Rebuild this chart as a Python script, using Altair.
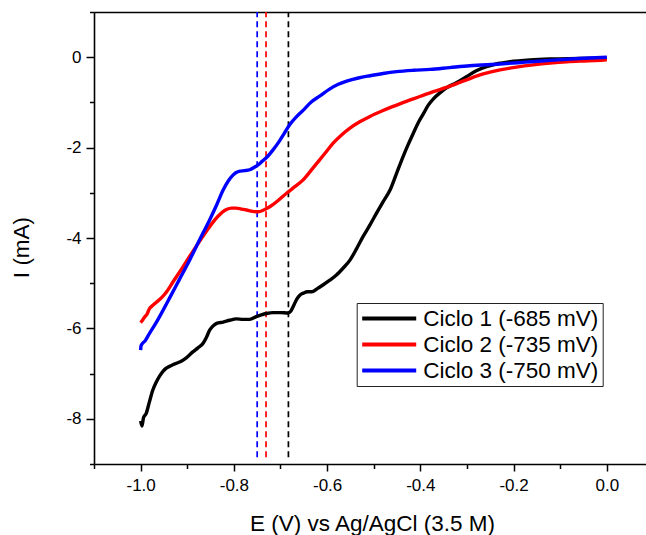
import altair as alt
import pandas as pd

FONT = "Liberation Sans"

series = ["Ciclo 1 (-685 mV)", "Ciclo 2 (-735 mV)", "Ciclo 3 (-750 mV)"]
colors = ["#000000", "#ff0000", "#0000ff"]
peak_x = [-0.683, -0.731, -0.750]

x_ticks = [-1.1, -1.0, -0.9, -0.8, -0.7, -0.6, -0.5, -0.4, -0.3, -0.2, -0.1, 0.0]
y_ticks = [-9, -8, -7, -6, -5, -4, -3, -2, -1, 0, 1]

c1_x = [-1.000, -0.997, -0.994, -0.988, -0.981, -0.974, -0.966, -0.959, -0.952, -0.945,
        -0.934, -0.923, -0.912, -0.902, -0.888, -0.877, -0.866, -0.859, -0.852, -0.845,
        -0.837, -0.823, -0.809, -0.795, -0.780, -0.766, -0.752, -0.741, -0.730, -0.716,
        -0.700, -0.684, -0.678, -0.672, -0.665, -0.658, -0.651, -0.642, -0.633, -0.621,
        -0.609, -0.595, -0.580, -0.566, -0.551, -0.537, -0.523, -0.508, -0.494, -0.480,
        -0.465, -0.451, -0.437, -0.426, -0.415, -0.404, -0.394, -0.383, -0.372, -0.358,
        -0.344, -0.322, -0.301, -0.280, -0.258, -0.233, -0.208, -0.165, -0.122, -0.060,
        0.000]
c1_y = [-8.05, -8.16, -7.98, -7.88, -7.62, -7.37, -7.18, -7.05, -6.95, -6.88,
        -6.82, -6.77, -6.72, -6.65, -6.52, -6.43, -6.33, -6.20, -6.04, -5.95,
        -5.89, -5.86, -5.82, -5.79, -5.80, -5.80, -5.74, -5.70, -5.67, -5.65,
        -5.65, -5.66, -5.62, -5.50, -5.35, -5.26, -5.22, -5.19, -5.19, -5.12,
        -5.04, -4.94, -4.82, -4.67, -4.49, -4.24, -3.97, -3.71, -3.45, -3.20,
        -2.94, -2.57, -2.20, -1.93, -1.68, -1.44, -1.26, -1.06, -0.92, -0.79,
        -0.68, -0.56, -0.43, -0.30, -0.21, -0.14, -0.10, -0.06, -0.04, -0.03,
        -0.02]

c2_x = [-1.000, -0.996, -0.991, -0.986, -0.982, -0.975, -0.966, -0.955, -0.945, -0.931,
        -0.913, -0.895, -0.874, -0.852, -0.834, -0.816, -0.805, -0.795, -0.784, -0.773,
        -0.760, -0.748, -0.736, -0.723, -0.705, -0.687, -0.670, -0.652, -0.634, -0.616,
        -0.601, -0.587, -0.569, -0.551, -0.530, -0.508, -0.480, -0.451, -0.426, -0.401,
        -0.372, -0.344, -0.301, -0.265, -0.229, -0.194, -0.158, -0.122, -0.086, -0.040,
        0.000]
c2_y = [-5.87, -5.82, -5.74, -5.68, -5.58, -5.50, -5.42, -5.32, -5.20, -4.98,
        -4.70, -4.41, -4.08, -3.75, -3.52, -3.37, -3.34, -3.34, -3.36, -3.38,
        -3.41, -3.42, -3.38, -3.31, -3.17, -3.01, -2.87, -2.72, -2.50, -2.27,
        -2.08, -1.90, -1.72, -1.57, -1.43, -1.31, -1.18, -1.06, -0.96, -0.87,
        -0.76, -0.67, -0.50, -0.37, -0.28, -0.22, -0.17, -0.13, -0.10, -0.08,
        -0.06]

c3_x = [-1.000, -0.999, -0.990, -0.981, -0.966, -0.952, -0.938, -0.917, -0.895, -0.874,
        -0.852, -0.837, -0.823, -0.812, -0.802, -0.795, -0.787, -0.777, -0.766, -0.757,
        -0.748, -0.739, -0.730, -0.716, -0.702, -0.691, -0.680, -0.666, -0.651, -0.634,
        -0.616, -0.594, -0.576, -0.558, -0.533, -0.508, -0.480, -0.451, -0.415, -0.379,
        -0.337, -0.294, -0.229, -0.175, -0.122, -0.060, 0.000]
c3_y = [-6.48, -6.38, -6.27, -6.11, -5.86, -5.60, -5.33, -4.92, -4.49, -4.05,
        -3.60, -3.27, -2.94, -2.74, -2.61, -2.55, -2.52, -2.51, -2.49, -2.44,
        -2.38, -2.30, -2.22, -2.05, -1.85, -1.67, -1.49, -1.32, -1.17, -0.99,
        -0.86, -0.70, -0.60, -0.53, -0.46, -0.41, -0.36, -0.32, -0.29, -0.27,
        -0.23, -0.19, -0.15, -0.11, -0.07, -0.03, 0.00]

rows = []
for s, xs, ys in zip(series, [c1_x, c2_x, c3_x], [c1_y, c2_y, c3_y]):
    for i, (xv, yv) in enumerate(zip(xs, ys)):
        rows.append({"serie": s, "E": xv, "I": yv, "i": i})
df = pd.DataFrame(rows)

rules_df = pd.DataFrame({"serie": series, "xr": peak_x, "col": colors})

x_dom = [-1.1, 0.084]
y_dom = [-9, 1]

x_major = "abs(round(datum.value*10)) % 2 == 0"
y_major = "datum.value % 2 == 0"

x_axis = alt.Axis(
    orient="bottom",
    values=x_ticks,
    labelExpr=f"{x_major} ? (datum.value < -0.001 ? '-' : '') + format(abs(datum.value), '.1f') : ''",
    tickSize={"condition": {"test": x_major, "value": 7}, "value": 4.5},
    tickWidth=1.5, tickColor="black",
    domainColor="black", domainWidth=1.6,
    labelFont=FONT, labelFontSize=17, labelColor="black", labelPadding=6,
    labelOverlap=False, labelFlush=False,
    grid=False,
    title="E (V) vs Ag/AgCl (3.5 M)",
    titleFont=FONT, titleFontSize=22.5, titleFontWeight="normal", titleColor="black",
    titleBaseline="alphabetic", titleY=66, titleX=278,
)
y_axis = alt.Axis(
    orient="left",
    values=y_ticks,
    labelExpr=f"{y_major} ? (datum.value < 0 ? '-' : '') + format(abs(datum.value), 'd') : ''",
    tickSize={"condition": {"test": y_major, "value": 8}, "value": 4.5},
    tickWidth=1.5, tickColor="black",
    domainColor="black", domainWidth=1.6,
    labelFont=FONT, labelFontSize=17, labelColor="black", labelPadding=5,
    labelOverlap=False, labelFlush=False,
    grid=False,
    title="I (mA)",
    titleFont=FONT, titleFontSize=22.5, titleFontWeight="normal", titleColor="black",
    titleBaseline="alphabetic", titleAngle=270, titleX=-66, titleY=235,
)
top_axis = alt.Axis(orient="top", labels=False, ticks=False, title=None,
                    domainColor="black", domainWidth=1.6, grid=False)

rules = alt.Chart(rules_df).mark_rule(strokeWidth=1.7, strokeDash=[6, 4]).encode(
    x=alt.X("xr:Q", scale=alt.Scale(domain=x_dom, nice=False, zero=False), axis=top_axis),
    y=alt.datum(-8.85, scale=alt.Scale(domain=y_dom, nice=False, zero=False), axis=None),
    y2=alt.datum(1.0),
    color=alt.Color("col:N", scale=None),
)

lines = alt.Chart(df).mark_line(strokeWidth=3.4, interpolate="monotone", strokeJoin="round").encode(
    x=alt.X("E:Q", scale=alt.Scale(domain=x_dom, nice=False, zero=False), axis=x_axis),
    y=alt.Y("I:Q", scale=alt.Scale(domain=y_dom, nice=False, zero=False), axis=y_axis),
    color=alt.Color(
        "serie:N",
        scale=alt.Scale(domain=series, range=colors),
        legend=alt.Legend(
            orient="none", legendX=262.7, legendY=291,
            symbolType="stroke", symbolSize=2916, symbolStrokeWidth=4,
            clipHeight=24, rowPadding=2, padding=3.5, labelOffset=5,
            strokeColor="#222222", fillColor="white",
            labelFont=FONT, labelFontSize=22.5, labelColor="black",
            labelLimit=400,
            title=None,
        ),
    ),
    order=alt.Order("i:Q"),
)

chart = alt.layer(rules, lines).resolve_axis(x="independent", y="independent").properties(
    width=552, height=452,
    autosize=alt.AutoSizeParams(type="none"),
    padding={"left": 94, "top": 12, "right": 0, "bottom": 71},
).configure_view(stroke="transparent")

chart.save("out.html", embed_options={"renderer": "svg", "actions": False})
